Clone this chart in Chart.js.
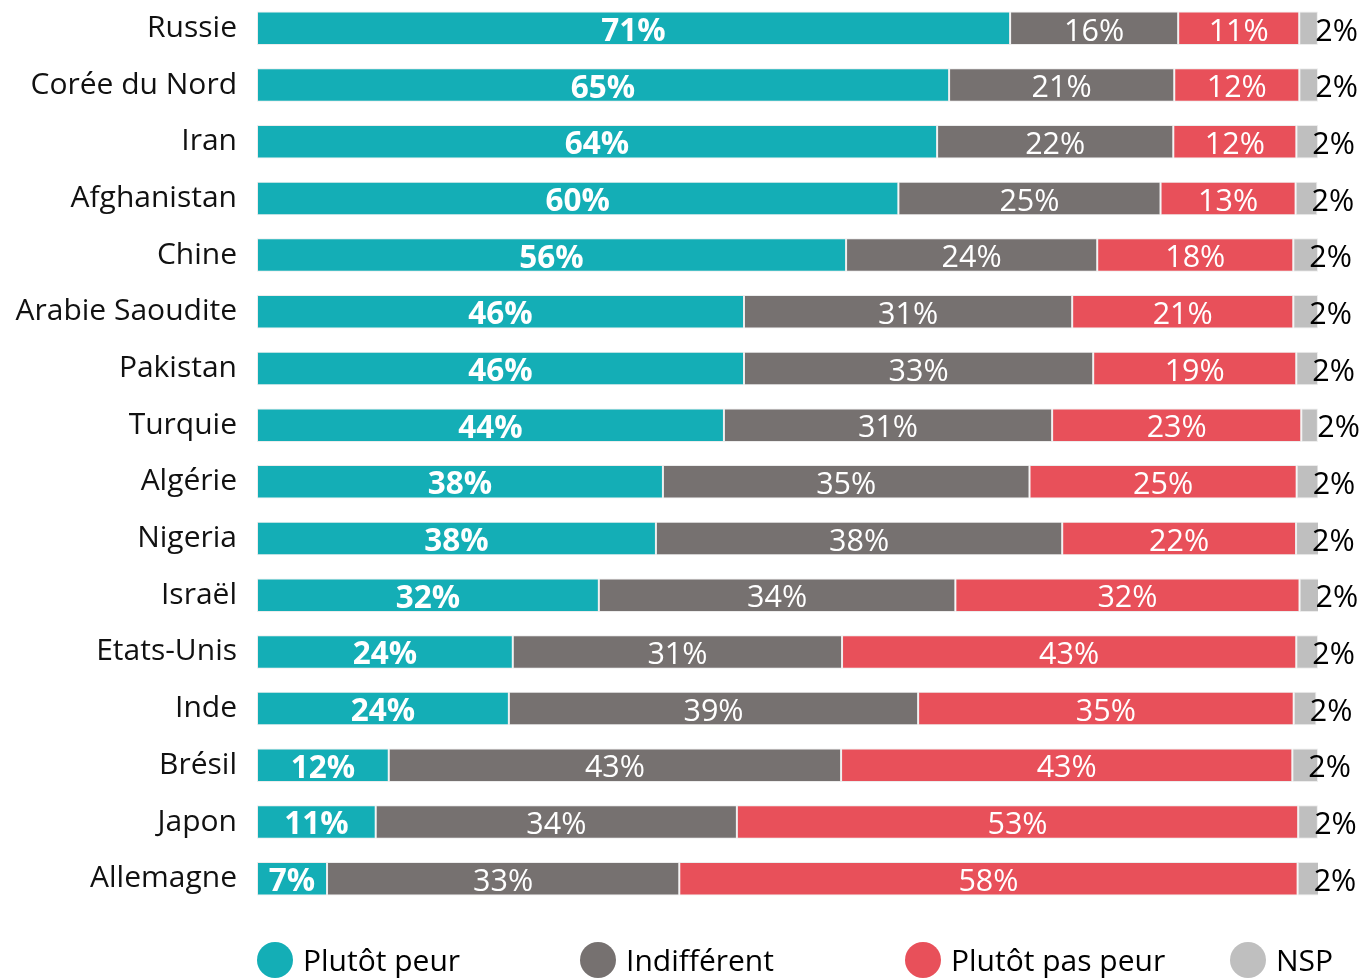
<!DOCTYPE html>
<html>
<head>
<meta charset="utf-8">
<script src="https://cdn.jsdelivr.net/npm/chart.js@4.4.1/dist/chart.umd.min.js"></script>
<style>
html,body{margin:0;padding:0;background:#fff;}
#wrap{width:1365px;height:978px;position:relative;}
</style>
</head>
<body>
<div id="wrap"><canvas id="c" width="1365" height="978"></canvas></div>
<script>
const categories = ['Russie','Corée du Nord','Iran','Afghanistan','Chine','Arabie Saoudite','Pakistan','Turquie','Algérie','Nigeria','Israël','Etats-Unis','Inde','Brésil','Japon','Allemagne'];
const plutotPeur    = [70.98, 65.23, 64.10, 60.45, 55.52, 45.90, 45.90, 44.01, 38.26, 37.60, 32.22, 24.11, 23.74, 12.42, 11.19, 6.60];
const indifferent   = [15.84, 21.22, 22.26, 24.71, 23.67, 30.93, 32.91, 30.93, 34.55, 38.29, 33.60, 31.03, 38.57, 42.63, 34.04, 33.20];
const plutotPasPeur = [11.41, 11.79, 11.60, 12.73, 18.48, 20.84, 19.14, 23.48, 25.18, 22.04, 32.44, 42.81, 35.40, 42.53, 52.90, 58.28];
const nsp           = [1.76, 1.76, 2.05, 2.05, 2.33, 2.33, 2.05, 1.57, 2.05, 2.17, 1.86, 2.05, 2.14, 2.42, 1.86, 2.05];
const seriesNames = ['Plutôt peur','Indifférent','Plutôt pas peur','NSP'];
const seriesColors = ['#14AEB6','#767170','#E8505A','#BFBFBF'];

const FONT = "'Open Sans', 'Noto Sans', sans-serif";

const barLabels = {
  id: 'barLabels',
  afterDatasetsDraw(chart) {
    const ctx = chart.ctx;
    ctx.save();
    chart.data.datasets.forEach((ds, i) => {
      const meta = chart.getDatasetMeta(i);
      meta.data.forEach((bar, j) => {
        const txt = Math.round(ds.data[j]) + '%';
        const y = bar.y + 3.5;
        ctx.textBaseline = 'middle';
        if (i < 3) {
          ctx.font = (i === 0 ? 'bold 31.5px ' : '30.5px ') + FONT;
          ctx.fillStyle = '#ffffff';
          ctx.textAlign = 'center';
          ctx.fillText(txt, (bar.x + bar.base) / 2, y);
        } else {
          ctx.font = '30.5px ' + FONT;
          ctx.fillStyle = '#000000';
          ctx.textAlign = 'left';
          ctx.fillText(txt, bar.base + 16, y);
        }
      });
    });
    ctx.restore();
  }
};

const customLegend = {
  id: 'customLegend',
  afterDraw(chart) {
    const ctx = chart.ctx;
    const left = chart.chartArea.left;
    const offsets = [0, 323, 648, 973];
    const cy = 960;
    ctx.save();
    chart.data.datasets.forEach((ds, i) => {
      const x = left + offsets[i];
      ctx.beginPath();
      ctx.fillStyle = ds.backgroundColor;
      ctx.arc(x + 18, cy, 18, 0, Math.PI * 2);
      ctx.fill();
      ctx.font = '30px ' + FONT;
      ctx.fillStyle = '#000000';
      ctx.textAlign = 'left';
      ctx.textBaseline = 'middle';
      ctx.fillText(ds.label, x + 46, cy + 2);
    });
    ctx.restore();
  }
};

const seriesData = [plutotPeur, indifferent, plutotPasPeur, nsp];

new Chart(document.getElementById('c'), {
  type: 'bar',
  data: {
    labels: categories,
    datasets: seriesData.map((d, i) => ({
      label: seriesNames[i],
      data: d,
      backgroundColor: seriesColors[i],
      borderColor: 'rgba(235,235,235,0.9)',
      borderWidth: 1,
      borderSkipped: false,
      barPercentage: 0.59,
      categoryPercentage: 1.0
    }))
  },
  options: {
    indexAxis: 'y',
    responsive: false,
    animation: false,
    layout: { padding: { left: 0, right: 47, top: 0, bottom: 71 } },
    plugins: { legend: { display: false }, tooltip: { enabled: false } },
    scales: {
      x: { stacked: true, min: 0, max: 100, display: false },
      y: {
        stacked: true,
        grid: { display: false, drawTicks: false },
        border: { display: false },
        ticks: { font: { family: FONT, size: 30 }, color: '#111111', padding: 20 },
        afterFit(scale) { scale.width = 257; scale.paddingTop = 0; scale.paddingBottom = 0; }
      }
    }
  },
  plugins: [barLabels, customLegend]
});
</script>
</body>
</html>
